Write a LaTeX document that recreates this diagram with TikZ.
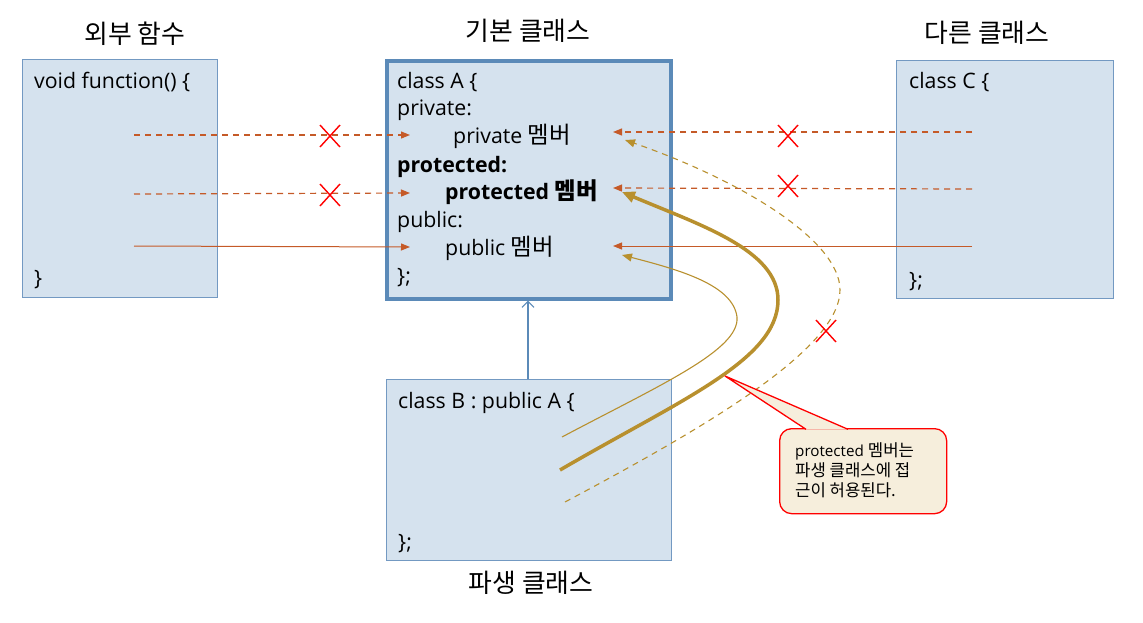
\documentclass[tikz,border=0pt]{standalone}
\usepackage{fontspec}
\setmainfont{Open Sans}
\newfontfamily\kr{Noto Sans CJK KR}[Scale=1.1]
\usetikzlibrary{arrows.meta}
\definecolor{boxfill}{HTML}{D5E2EE}
\definecolor{boxline}{HTML}{7399C2}
\definecolor{boxlineA}{HTML}{5B8AB8}
\definecolor{acc}{HTML}{C55A28}
\definecolor{gold}{HTML}{B8902E}
\definecolor{cream}{HTML}{F6EEDC}
\tikzset{
  box/.style={draw=boxline, fill=boxfill, line width=1pt, anchor=north west, inner sep=0pt},
  code/.style={anchor=base west, inner sep=0pt, font=\fontsize{21.3}{24}\selectfont},
  title/.style={anchor=center, inner sep=0pt, font=\kr\fontsize{23.5}{26}\selectfont},
  acc arrow/.style={draw=acc, line width=1.2pt, -{Triangle[length=9pt,width=7pt]}},
  acc dash/.style={acc arrow, dash pattern=on 6pt off 5pt},
  gold arrow/.style={draw=gold, -{Triangle[length=10pt,width=8pt]}},
  xmark/.style={draw=red, line width=1.4pt},
}
\begin{document}
\begin{tikzpicture}[x=1pt,y=-1pt]
\useasboundingbox (0,0) rectangle (1143,622);
% boxes
\node[box, minimum width=195pt, minimum height=238pt] (F) at (22,59) {};
\node[box, draw=boxlineA, line width=3.5pt, minimum width=284pt, minimum height=238pt] (A) at (385,59) {};
\node[box, minimum width=217pt, minimum height=238pt] (C) at (896,60) {};
\node[box, minimum width=285pt, minimum height=181pt] (B) at (386,379) {};
% titles
\node[title] (tF) at (135,34) {외부 함수};
\node[title] (tA) at (528,31) {기본 클래스};
\node[title] (tC) at (987,33) {다른 클래스};
\node[title] (tB) at (531,583) {파생 클래스};
% code texts
\node[code] (f1) at (34,88) {void function() \{};
\node[code] (f2) at (34,285) {\}};
\node[code] (a1) at (397,88) {class A \{};
\node[code] (a2) at (397,115) {private:};
\node[code] (a3) at (453,143) {private {\kr 멤버}};
\node[code] (a4) at (397,172) {\textbf{protected:}};
\node[code] (a5) at (445,199) {\textbf{protected {\kr 멤버}}};
\node[code] (a6) at (397,227) {public:};
\node[code] (a7) at (445,255) {public {\kr 멤버}};
\node[code] (a8) at (397,283) {\};};
\node[code] (c1) at (909,88) {class C \{};
\node[code] (c2) at (909,287) {\};};
\node[code] (b1) at (398,408) {class B : public A \{};
\node[code] (b2) at (398,549) {\};};
% connector end points
\coordinate (L1) at (134,135); \coordinate (L1e) at (410,135);
\coordinate (L2) at (134,194); \coordinate (L2e) at (410,193);
\coordinate (L3) at (134,246); \coordinate (L3e) at (410,247);
\coordinate (R1) at (972,132); \coordinate (R1e) at (613,132);
\coordinate (R2) at (972,189); \coordinate (R2e) at (613,188);
\coordinate (R3) at (972,246); \coordinate (R3e) at (613,246);
\draw[acc dash] (L1) -- (L1e);
\draw[acc dash] (L2) -- (L2e);
\draw[acc arrow, line width=1pt] (L3) -- (L3e);
\draw[acc dash] (R1) -- (R1e);
\draw[acc dash] (R2) -- (R2e);
\draw[acc arrow, line width=1pt] (R3) -- (R3e);
% inheritance arrow
\draw[draw=boxlineA, line width=1.2pt, -{Straight Barb[length=6pt,width=12pt]}] (B.north -| 528,0) -- (A.south -| 528,0);
% gold curves
\coordinate (g1s) at (560,470); \coordinate (g1e) at (622,192);
\coordinate (g2s) at (562,437); \coordinate (g2e) at (622,255);
\coordinate (g3s) at (565,502); \coordinate (g3e) at (625,140);
\draw[gold arrow, line width=3.5pt, -{Triangle[length=13pt,width=11pt]}] (g1s) .. controls (680,400) and (778,360) .. (778,300) .. controls (778,250) and (700,225) .. (g1e);
\draw[gold arrow, line width=1.1pt] (g2s) .. controls (660,385) and (740,350) .. (737,317) .. controls (733,285) and (680,270) .. (g2e);
\draw[gold arrow, line width=1.1pt, dash pattern=on 6pt off 5pt] (g3s) .. controls (700,430) and (840,350) .. (840,290) .. controls (840,240) and (740,180) .. (g3e);
% crosses
\foreach \cx/\cy in {330/136, 330/195, 788/136, 788/186, 826/331}{
  \draw[xmark] (\cx-10,\cy-11) -- (\cx+10,\cy+11);
  \draw[xmark] (\cx-10,\cy+11) -- (\cx+10,\cy-11);
}
% callout
\node[draw=red, fill=cream, line width=1.3pt, rounded corners=12pt, anchor=north west, minimum width=167pt, minimum height=85pt, inner sep=0pt] (call) at (779,428) {};
\coordinate (tip) at (725,376);
\draw[red, fill=cream, line width=1.3pt] (806,429.3) -- (tip) -- (848,429.3);
\node[anchor=north west, inner sep=0pt, align=left, font=\fontsize{15.2}{20}\selectfont] (ct) at (795,442) {protected {\kr 멤버는}\\{\kr 파생 클래스에 접}\\{\kr 근이 허용된다.}};
\end{tikzpicture}
\end{document}
